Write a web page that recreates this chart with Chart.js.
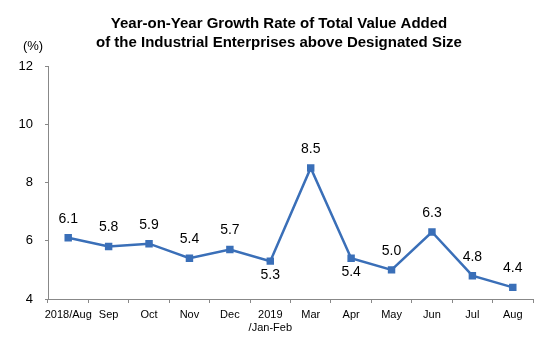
<!DOCTYPE html>
<html lang="en">
<head>
<meta charset="UTF-8">
<script src="https://cdn.jsdelivr.net/npm/chart.js"></script>
<style>
  body { margin: 0; background: #fff; }
  #wrap { width: 553px; height: 348px; }
</style>
</head>
<body>
<div id="wrap"><canvas id="c" width="553" height="348"></canvas></div>
<script>
const months = ['2018/Aug', 'Sep', 'Oct', 'Nov', 'Dec', ['2019', '/Jan-Feb'], 'Mar', 'Apr', 'May', 'Jun', 'Jul', 'Aug'];
const growth = [6.1, 5.8, 5.9, 5.4, 5.7, 5.3, 8.5, 5.4, 5.0, 6.3, 4.8, 4.4];
const labelBelow = [false, false, false, false, false, true, false, true, false, false, false, false];
const yTicks = [4, 6, 8, 10, 12];

const FONT = "'Liberation Sans', Arial, sans-serif";

// title, unit and value labels
const decor = {
  id: 'decor',
  afterDatasetsDraw(chart) {
    const ctx = chart.ctx;
    ctx.save();
    ctx.fillStyle = '#000';
    ctx.textAlign = 'center';
    ctx.textBaseline = 'middle';
    ctx.font = 'bold 15px ' + FONT;
    ctx.fillText('Year-on-Year Growth Rate of Total Value Added', 279, 24);
    ctx.fillText('of the Industrial Enterprises above Designated Size', 279, 43);
    ctx.font = '13px ' + FONT;
    ctx.fillText('(%)', 33, 46);

    ctx.font = '14px ' + FONT;
    const meta = chart.getDatasetMeta(0);
    meta.data.forEach((pt, i) => {
      const y = labelBelow[i] ? pt.y + 14 : pt.y - 19;
      ctx.fillText(growth[i].toFixed(1), pt.x, y);
    });
    ctx.restore();
  }
};

new Chart(document.getElementById('c'), {
  type: 'line',
  data: {
    labels: months,
    datasets: [{
      data: growth,
      borderColor: '#3a6fb8',
      backgroundColor: '#3a6fb8',
      borderWidth: 2.5,
      pointStyle: 'rect',
      pointRadius: 3.5,
      tension: 0
    }]
  },
  options: {
    responsive: false,
    animation: false,
    layout: { padding: { top: 66, right: 20, left: 0, bottom: 0 } },
    plugins: { legend: { display: false }, tooltip: { enabled: false }, title: { display: false } },
    scales: {
      x: {
        offset: true,
        grid: { offset: true, drawOnChartArea: false, drawTicks: true, tickLength: 4, color: '#888' },
        border: { color: '#888', width: 1 },
        ticks: { color: '#000', font: { family: FONT, size: 11 }, padding: 5, maxRotation: 0, autoSkip: false },
        afterFit(s) { s.height = 49; }
      },
      y: {
        min: 4,
        max: 12,
        afterBuildTicks(s) { s.ticks = yTicks.map(v => ({ value: v })); },
        grid: { drawOnChartArea: false, drawTicks: true, tickLength: 3, color: '#888' },
        border: { color: '#888', width: 1 },
        ticks: { color: '#000', font: { family: FONT, size: 13 }, padding: 12 },
        afterFit(s) { s.width = 48; }
      }
    }
  },
  plugins: [decor]
});
</script>
</body>
</html>
